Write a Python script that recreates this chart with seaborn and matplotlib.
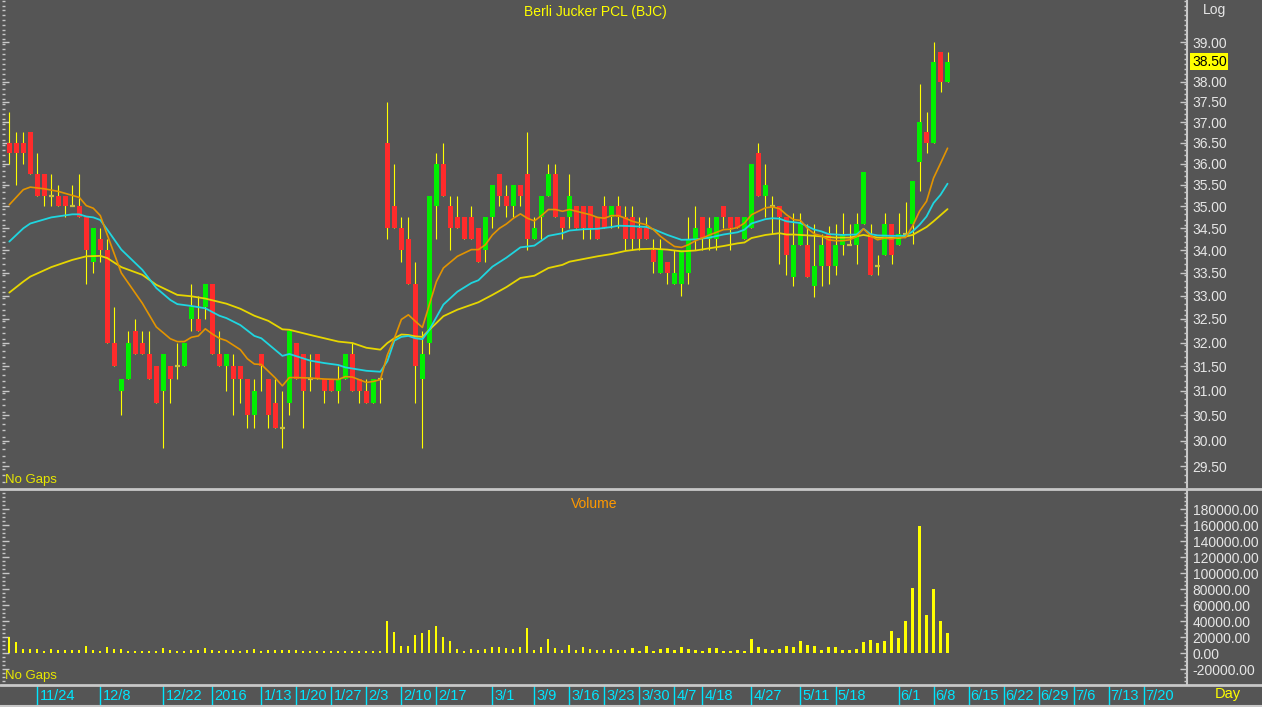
import numpy as np
import matplotlib
matplotlib.use("Agg")
import matplotlib.pyplot as plt
import matplotlib.transforms as mtransforms
from matplotlib.lines import Line2D
from matplotlib.ticker import FixedLocator, FormatStrFormatter, NullFormatter
import seaborn as sns

# ---------------- data ----------------
opens = [36.50, 36.50, 36.50, 36.75, 35.75, 35.75, 35.25, 35.25, 35.25, 35.00,
         35.00, 34.75, 33.75, 34.25, 34.00, 32.00, 31.00, 31.25, 32.25, 32.00,
         31.75, 31.50, 31.00, 31.50, 31.50, 31.50, 32.50, 32.50, 32.75, 33.25,
         31.75, 31.50, 31.50, 31.50, 31.25, 30.50, 31.75, 31.25, 30.75, 30.25,
         30.75, 32.00, 31.75, 31.25, 31.75, 31.25, 31.25, 31.00, 31.25, 31.75,
         31.25, 31.00, 30.75, 31.25, 36.50, 35.00, 34.50, 34.25, 33.25, 31.25,
         32.00, 35.00, 36.00, 35.00, 34.75, 34.75, 34.75, 34.50, 34.00, 34.75,
         35.75, 35.25, 35.00, 35.50, 35.75, 34.25, 34.75, 35.25, 35.75, 34.75,
         34.75, 35.00, 35.00, 35.00, 34.75, 35.00, 34.75, 35.00, 34.75, 34.75,
         34.50, 34.50, 34.00, 33.50, 33.75, 33.25, 33.25, 33.50, 34.25, 34.75,
         34.25, 34.25, 35.00, 34.75, 34.75, 34.25, 34.50, 36.25, 35.25, 35.00,
         35.00, 34.75, 33.42, 34.12, 34.12, 33.22, 33.66, 34.40, 33.65, 34.12,
         34.12, 34.12, 34.60, 34.37, 33.66, 33.90, 34.60, 34.12, 34.37, 34.60,
         36.05, 36.75, 36.50, 38.75, 38.00]
highs = [37.25, 36.75, 36.75, 36.75, 36.25, 35.75, 35.75, 35.50, 35.25, 35.50,
         35.75, 34.75, 34.50, 34.50, 34.25, 32.75, 31.25, 32.25, 32.50, 32.25,
         32.25, 31.50, 31.75, 31.50, 32.00, 32.00, 33.25, 33.00, 33.25, 33.25,
         32.25, 31.75, 31.75, 31.50, 31.25, 31.25, 31.75, 31.25, 31.25, 31.00,
         32.25, 32.00, 31.75, 31.75, 31.75, 31.25, 31.25, 31.50, 31.75, 32.00,
         31.25, 31.25, 31.25, 31.25, 37.50, 36.00, 34.75, 34.75, 33.75, 32.25,
         35.25, 36.25, 36.50, 35.25, 35.25, 34.75, 35.00, 34.50, 34.75, 35.50,
         35.75, 35.50, 35.50, 35.50, 36.75, 34.75, 35.25, 36.00, 36.00, 34.75,
         35.75, 35.00, 35.00, 35.00, 34.75, 35.25, 35.00, 35.25, 35.00, 35.00,
         34.75, 34.75, 34.25, 34.25, 33.75, 34.00, 34.00, 34.75, 35.00, 34.75,
         34.75, 34.75, 35.00, 34.75, 34.75, 34.75, 36.00, 36.50, 36.00, 35.25,
         35.00, 34.75, 34.85, 34.85, 34.60, 34.60, 34.37, 34.55, 34.60, 34.85,
         34.60, 34.85, 35.80, 34.60, 33.90, 34.85, 34.60, 34.85, 35.10, 35.60,
         37.95, 37.25, 39.00, 38.75, 38.75]
lows = [36.00, 35.50, 36.00, 35.75, 35.25, 35.00, 35.00, 35.00, 34.75, 35.00,
        34.75, 33.25, 33.50, 33.75, 32.00, 31.50, 30.50, 31.25, 31.75, 31.75,
        31.25, 30.75, 29.85, 30.75, 31.25, 31.50, 32.25, 32.25, 32.50, 31.75,
        31.50, 31.00, 30.50, 30.75, 30.25, 30.25, 31.00, 30.25, 30.25, 29.85,
        30.50, 31.25, 30.25, 31.00, 31.25, 30.75, 31.00, 30.75, 31.25, 31.00,
        30.75, 30.75, 30.75, 30.75, 34.25, 34.50, 33.75, 33.25, 30.75, 29.85,
        31.75, 34.25, 35.25, 34.00, 34.50, 34.25, 34.25, 33.75, 33.75, 34.50,
        35.00, 34.75, 34.75, 35.00, 34.00, 34.25, 34.25, 35.25, 34.75, 34.25,
        34.50, 34.50, 34.25, 34.25, 34.25, 34.50, 34.50, 34.50, 34.00, 34.00,
        34.00, 34.25, 33.50, 33.50, 33.25, 33.25, 33.00, 33.25, 34.00, 34.00,
        34.00, 34.00, 34.50, 34.00, 34.50, 34.25, 34.50, 35.25, 34.75, 34.37,
        33.70, 33.45, 33.22, 34.12, 33.42, 32.98, 33.22, 33.25, 33.45, 33.90,
        34.12, 33.70, 34.60, 33.45, 33.45, 33.90, 33.70, 34.12, 34.37, 34.15,
        35.35, 36.25, 36.50, 37.75, 38.00]
closes = [36.25, 36.25, 36.25, 35.75, 35.25, 35.25, 35.25, 35.00, 35.00, 35.00,
          34.75, 34.00, 34.50, 34.00, 32.00, 31.50, 31.25, 32.00, 31.75, 31.75,
          31.25, 30.75, 31.75, 31.25, 31.50, 32.00, 32.75, 32.25, 33.25, 31.75,
          31.50, 31.75, 31.25, 31.25, 30.50, 31.00, 31.50, 30.50, 30.25, 30.25,
          32.25, 31.25, 31.00, 31.25, 31.25, 31.00, 31.00, 31.25, 31.75, 31.00,
          31.00, 30.75, 31.25, 31.25, 34.50, 34.50, 34.00, 33.25, 31.50, 31.75,
          35.25, 36.00, 35.25, 34.50, 34.50, 34.25, 34.25, 33.75, 34.75, 35.50,
          35.25, 35.00, 35.50, 35.25, 34.25, 34.50, 35.25, 35.75, 34.75, 34.50,
          35.25, 34.50, 34.50, 34.50, 34.25, 34.50, 35.00, 34.75, 34.25, 34.25,
          34.25, 34.25, 33.75, 34.00, 33.50, 33.50, 34.00, 34.25, 34.50, 34.25,
          34.50, 34.75, 34.75, 34.50, 34.50, 34.75, 36.00, 35.25, 35.50, 35.00,
          34.75, 33.90, 34.12, 34.60, 33.42, 33.66, 34.12, 33.65, 34.12, 34.37,
          34.12, 34.60, 35.80, 33.45, 33.66, 34.60, 33.90, 34.37, 34.37, 35.60,
          37.00, 36.50, 38.50, 38.00, 38.50]
volumes = [20800, 14200, 5400, 5800, 5800, 3300, 5400, 4200, 4200, 4200,
           4200, 9200, 4200, 2500, 8300, 5400, 5000, 3300, 2500, 2900,
           3300, 3300, 6700, 3750, 2500, 3300, 3750, 4200, 6700, 4200,
           3300, 3750, 4200, 2900, 4200, 5000, 3300, 4200, 3750, 4200,
           3750, 4200, 3300, 3300, 3300, 2500, 2500, 2500, 2900, 3300,
           3300, 2900, 2500, 2500, 40800, 27100, 9600, 9600, 22900, 25000,
           29200, 34600, 20000, 15000, 5400, 3300, 5400, 4200, 5000, 7500,
           7500, 6250, 5400, 7500, 31700, 4200, 7500, 17900, 6700, 4200,
           10800, 4200, 7500, 5400, 4200, 4200, 5400, 4600, 3800, 6000,
           3300, 9600, 3300, 5400, 6700, 4600, 7500, 5400, 4600, 3300,
           6250, 6250, 3300, 3300, 4200, 3300, 17900, 7500, 5400, 4600,
           5400, 8750, 7500, 15000, 10800, 9600, 4600, 7500, 7500, 4600,
           4200, 5400, 13750, 16700, 12500, 15000, 28300, 19200, 40000, 81700,
           158750, 48300, 80400, 40800, 25000]

# moving averages, read at the bars where they could be read
fast_idx = [0, 2, 3, 5, 7, 10, 11, 12, 13, 14, 16, 19, 21, 23, 24, 25, 26, 27, 28, 29,
            30, 31, 33, 34, 35, 36, 38, 39, 40, 41, 43, 45, 47, 48, 49, 51, 52, 53, 54, 55,
            56, 57, 58, 59, 60, 61, 62, 64, 66, 67, 68, 69, 70, 71, 72, 73, 74, 75, 76, 77,
            78, 79, 80, 81, 82, 83, 84, 85, 86, 87, 88, 89, 90, 91, 92, 93, 94, 95, 96, 97,
            98, 99, 100, 101, 102, 103, 104, 105, 106, 107, 108, 109, 110, 111, 112, 113,
            114, 115, 116, 117, 118, 119, 120, 121, 122, 123, 124, 125, 126, 127, 128, 129,
            130, 131, 132, 133, 134]
fast_val = [35.04, 35.39, 35.45, 35.41, 35.35, 35.21, 35.02, 34.96, 34.79, 34.35,
            33.50, 32.84, 32.33, 32.08, 32.02, 32.02, 32.11, 32.14, 32.29, 32.18,
            32.09, 32.04, 31.85, 31.66, 31.55, 31.54, 31.26, 31.10, 31.27, 31.27,
            31.26, 31.24, 31.23, 31.29, 31.28, 31.17, 31.19, 31.23, 31.74, 32.09,
            32.49, 32.59, 32.45, 32.32, 32.81, 33.31, 33.61, 33.87, 34.02, 34.02,
            34.13, 34.35, 34.50, 34.60, 34.73, 34.83, 34.73, 34.67, 34.79, 34.93,
            34.93, 34.89, 34.93, 34.89, 34.85, 34.81, 34.75, 34.73, 34.79, 34.79,
            34.73, 34.66, 34.62, 34.58, 34.47, 34.32, 34.20, 34.09, 34.07, 34.13,
            34.22, 34.28, 34.35, 34.41, 34.47, 34.48, 34.52, 34.62, 34.81, 34.89,
            34.97, 34.99, 34.95, 34.81, 34.70, 34.68, 34.50, 34.37, 34.33, 34.24,
            34.22, 34.22, 34.24, 34.31, 34.49, 34.33, 34.24, 34.28, 34.26, 34.29,
            34.29, 34.55, 34.89, 35.12, 35.66, 36.01, 36.37]
mid_idx = [0, 2, 3, 6, 9, 10, 11, 12, 13, 14, 16, 19, 21, 23, 24, 26, 28, 30, 31, 33,
           35, 36, 39, 40, 43, 45, 47, 48, 51, 53, 54, 55, 56, 57, 58, 59, 60, 62, 64, 66,
           67, 69, 71, 73, 75, 76, 77, 79, 80, 82, 84, 86, 87, 89, 91, 92, 94, 96, 98, 100,
           102, 104, 105, 106, 108, 109, 110, 111, 112, 113, 115, 116, 117, 119, 121, 122,
           123, 124, 126, 128, 129, 130, 131, 132, 133, 134]
mid_val = [34.20, 34.50, 34.61, 34.75, 34.82, 34.82, 34.77, 34.75, 34.69, 34.47,
           34.02, 33.57, 33.17, 32.91, 32.82, 32.78, 32.73, 32.57, 32.52, 32.37,
           32.14, 32.09, 31.72, 31.76, 31.62, 31.57, 31.53, 31.48, 31.41, 31.39,
           31.61, 32.04, 32.12, 32.14, 32.09, 32.07, 32.27, 32.81, 33.09, 33.28,
           33.34, 33.64, 33.84, 34.07, 34.11, 34.22, 34.33, 34.39, 34.45, 34.48,
           34.49, 34.53, 34.56, 34.55, 34.53, 34.48, 34.35, 34.24, 34.25, 34.29,
           34.36, 34.41, 34.47, 34.61, 34.71, 34.73, 34.72, 34.66, 34.64, 34.62,
           34.47, 34.43, 34.37, 34.35, 34.36, 34.49, 34.37, 34.34, 34.33, 34.33,
           34.43, 34.58, 34.77, 35.08, 35.27, 35.53]
slow_idx = [0, 2, 3, 6, 9, 11, 13, 14, 16, 19, 21, 24, 26, 28, 31, 33, 35, 37, 39, 40,
            43, 47, 49, 51, 53, 54, 55, 56, 57, 58, 59, 60, 62, 64, 67, 69, 71, 73, 75, 77,
            79, 80, 82, 84, 86, 88, 90, 92, 94, 96, 98, 100, 102, 104, 105, 106, 108, 109,
            110, 111, 112, 115, 118, 120, 122, 124, 127, 129, 131, 132, 134]
slow_val = [33.07, 33.31, 33.42, 33.63, 33.79, 33.87, 33.88, 33.83, 33.63, 33.46,
            33.24, 33.02, 32.99, 32.94, 32.83, 32.72, 32.57, 32.46, 32.28, 32.27,
            32.16, 32.02, 31.99, 31.89, 31.85, 31.99, 32.09, 32.17, 32.16, 32.13,
            32.12, 32.27, 32.56, 32.70, 32.86, 33.02, 33.19, 33.39, 33.44, 33.61,
            33.68, 33.75, 33.81, 33.87, 33.92, 33.99, 34.03, 34.04, 34.02, 33.98,
            34.00, 34.05, 34.10, 34.16, 34.18, 34.28, 34.35, 34.37, 34.39, 34.36,
            34.36, 34.33, 34.29, 34.29, 34.35, 34.29, 34.28, 34.35, 34.53, 34.66,
            34.94]

date_pos = [4, 13, 22, 29, 36, 41, 46, 51, 56, 61, 69, 75, 80, 85, 90, 95, 99, 106,
            113, 118, 127, 132, 137, 142, 147, 152, 157, 162]
date_labels = ["11/24", "12/8", "12/22", "2016", "1/13", "1/20", "1/27", "2/3", "2/10",
               "2/17", "3/1", "3/9", "3/16", "3/23", "3/30", "4/7", "4/18", "4/27",
               "5/11", "5/18", "6/1", "6/8", "6/15", "6/22", "6/29", "7/6", "7/13", "7/20"]
price_ticks = [29.5, 30.0, 30.5, 31.0, 31.5, 32.0, 32.5, 33.0, 33.5, 34.0, 34.5,
               35.0, 35.5, 36.0, 36.5, 37.0, 37.5, 38.0, 39.0]
last_price = 38.50
vol_ticks = [-20000, 0, 20000, 40000, 60000, 80000, 100000, 120000, 140000, 160000, 180000]

# ---------------- style ----------------
BG = "#555555"
LINE = "#c8c8c8"
TXT = "#e6e6e6"
RED = "#ff2b2b"
GREEN = "#00f000"
WICK = "#ffff00"
DOJI = "#c8c040"
C_FAST = "#e39400"
C_MID = "#1fd6e0"
C_SLOW = "#e6d600"
CYAN = "#00e6ff"
FONT = ["Liberation Sans", "DejaVu Sans"]

sns.set_style("dark", {"axes.facecolor": BG, "figure.facecolor": BG})
plt.rcParams["font.family"] = FONT

W, H = 1262, 707
fig = plt.figure(figsize=(W / 100, H / 100), dpi=100, facecolor=BG)


def box(l, t, r, b):
    return [l / W, 1 - b / H, (r - l) / W, (b - t) / H]


ax = fig.add_axes(box(2, 0, 1187, 487))
axv = fig.add_axes(box(2, 491, 1187, 684))
axd = fig.add_axes(box(2, 686, 1187, 705))
for a in (ax, axv, axd):
    a.set_facecolor(BG)
    a.grid(False)
    for s in a.spines.values():
        s.set_visible(False)

x = np.arange(len(closes))
o = np.array(opens)
c = np.array(closes)
hi = np.array(highs)
lo = np.array(lows)
up = c > o
dn = c < o
eq = c == o

# ---------------- price panel ----------------
ax.set_yscale("log")
ax.vlines(x, lo, hi, color=WICK, lw=0.8, zorder=3)
ax.bar(x[up], (c - o)[up], bottom=o[up], width=0.72, color=GREEN, linewidth=0, zorder=4)
ax.bar(x[dn], (o - c)[dn], bottom=c[dn], width=0.72, color=RED, linewidth=0, zorder=4)
ax.hlines(c[eq], x[eq] - 0.36, x[eq] + 0.36, color=DOJI, lw=1.6, zorder=4)

sns.lineplot(x=slow_idx, y=slow_val, ax=ax, color=C_SLOW, lw=1.3, zorder=5)
sns.lineplot(x=mid_idx, y=mid_val, ax=ax, color=C_MID, lw=1.3, zorder=6)
sns.lineplot(x=fast_idx, y=fast_val, ax=ax, color=C_FAST, lw=1.2, zorder=7)

xlim = (-1.04, 168.2)
ax.set_xlim(*xlim)
ax.set_ylim(29.095, 40.10)
ax.set_xlabel("")
ax.set_ylabel("")
ax.set_xticks([])
ax.yaxis.set_ticks_position("both")
ax.yaxis.set_major_locator(FixedLocator(price_ticks))
ax.yaxis.set_major_formatter(FormatStrFormatter("%.2f"))
ax.yaxis.set_minor_locator(FixedLocator(list(np.arange(29.2, 40.1, 0.125))))
ax.yaxis.set_minor_formatter(NullFormatter())
ax.tick_params(axis="y", which="major", direction="in", length=5, width=1,
               color=LINE, labelleft=False, labelright=True, labelcolor=TXT,
               labelsize=10, pad=4)
ax.tick_params(axis="y", which="minor", direction="in", length=2.5, width=1, color=LINE)
ax.spines["right"].set_visible(True)
ax.spines["right"].set_color(LINE)
ax.spines["right"].set_linewidth(1.5)

trans = mtransforms.blended_transform_factory(ax.transAxes, ax.transData)
ax.text(1.0 + 5 / 1185, last_price, f"{last_price:.2f}", transform=trans, ha="left",
        va="center", fontsize=10, color="black",
        bbox=dict(facecolor="#ffff00", edgecolor="none", pad=1.2), zorder=10,
        clip_on=False)

# ---------------- volume panel ----------------
axv.bar(x, volumes, width=0.3, color=WICK, linewidth=0, zorder=3)
axv.set_xlim(*xlim)
axv.set_ylim(-38400, 202900)
axv.set_xticks([])
axv.yaxis.set_ticks_position("both")
axv.yaxis.set_major_locator(FixedLocator(vol_ticks))
axv.yaxis.set_major_formatter(FormatStrFormatter("%.2f"))
axv.yaxis.set_minor_locator(FixedLocator(list(np.arange(-35000, 200001, 5000))))
axv.tick_params(axis="y", which="major", direction="in", length=5, width=1,
                color=LINE, labelleft=False, labelright=True, labelcolor=TXT,
                labelsize=10, pad=4)
axv.tick_params(axis="y", which="minor", direction="in", length=2.5, width=1, color=LINE)
axv.spines["right"].set_visible(True)
axv.spines["right"].set_color(LINE)
axv.spines["right"].set_linewidth(1.5)

# ---------------- date strip ----------------
axd.set_xlim(*xlim)
axd.set_ylim(0, 1)
axd.set_xticks([])
axd.set_yticks([])
for p, lab in zip(date_pos, date_labels):
    axd.axvline(p, ymin=0.0, ymax=1.0, color=CYAN, lw=1)
    axd.text(p + 0.3, 0.45, lab, color=CYAN, fontsize=10.5, ha="left", va="center")

# ---------------- frame lines and labels ----------------
for yy, lw in ((489, 2.0), (685, 2.0), (706, 1.5)):
    fig.add_artist(Line2D([0, 1], [1 - yy / H] * 2, color=LINE, lw=lw))

fig.text(595 / W, 1 - 12 / H, "Berli Jucker PCL (BJC)", color="#ffff00",
         ha="center", va="center", fontsize=10)
fig.text(1214 / W, 1 - 10 / H, "Log", color=TXT, ha="center", va="center", fontsize=10)
fig.text(5 / W, 1 - 480 / H, "No Gaps", color="#e8e800", ha="left", va="center", fontsize=9.5)
fig.text(5 / W, 1 - 676 / H, "No Gaps", color="#e8e800", ha="left", va="center", fontsize=9.5)
fig.text(594 / W, 1 - 504 / H, "Volume", color="#ff9900", ha="center", va="center",
         fontsize=10)
fig.text(1228 / W, 1 - 694 / H, "Day", color="#ffff00", ha="center", va="center",
         fontsize=10.5)

fig.savefig("out.png", dpi=100, facecolor=BG)
